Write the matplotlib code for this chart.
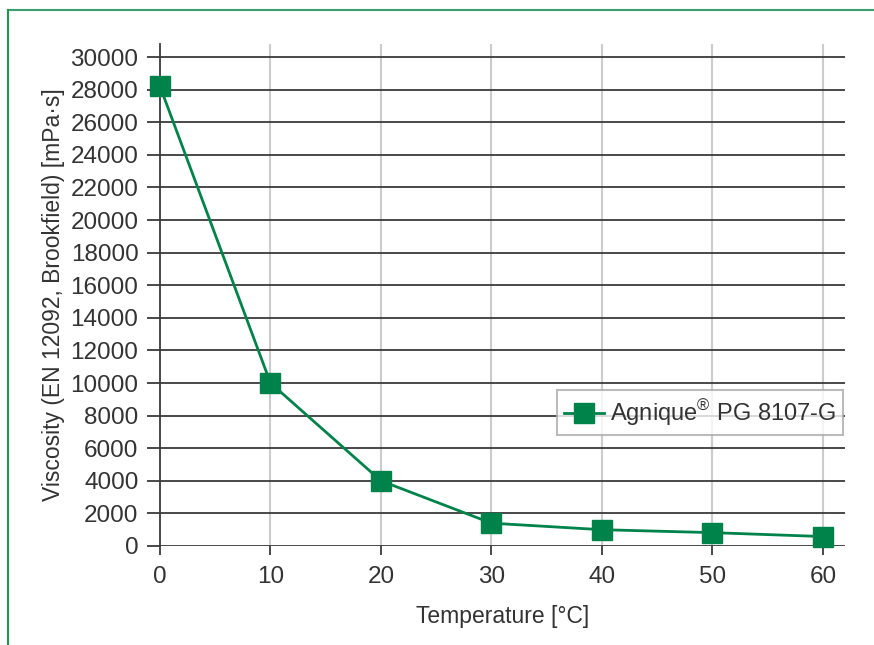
import matplotlib.pyplot as plt
from matplotlib.lines import Line2D

plt.rcParams['font.family'] = ['Liberation Sans', 'DejaVu Sans']
plt.rcParams['mathtext.fontset'] = 'custom'
plt.rcParams['mathtext.rm'] = 'Liberation Sans'

temperature = [0, 10, 20, 30, 40, 50, 60]
viscosity = [28200, 10000, 4000, 1400, 1000, 820, 580]
series_name = 'Agnique$^{\\mathrm{®}}$ PG 8107-G'
yticks = list(range(0, 30001, 2000))
xticks = [0, 10, 20, 30, 40, 50, 60]

green = '#00834a'
txt = '#333333'

fig = plt.figure(figsize=(8.74, 6.45), dpi=100)
# green frame around the chart (top and left edges)
fig.add_artist(Line2D([8 / 874, 1], [1 - 10 / 645, 1 - 10 / 645], color='#3a9e6e', lw=1.5))
fig.add_artist(Line2D([8 / 874, 8 / 874], [0, 1 - 10 / 645], color='#1a9a4a', lw=1.5))

ax = fig.add_axes([160 / 874, 99 / 645, 685 / 874, 502 / 645])
ax.set_xlim(0, 62)
ax.set_ylim(0, 30800)

for y in yticks:
    ax.axhline(y, color='#3a3a3a', lw=1.3, zorder=1)
for x in xticks[1:]:
    ax.axvline(x, color='#cccccc', lw=1.5, zorder=0)

ax.plot(temperature, viscosity, color=green, lw=2, marker='s', ms=14,
        label=series_name, zorder=3, clip_on=False)

for s in ['top', 'right', 'bottom']:
    ax.spines[s].set_visible(False)
ax.spines['left'].set_color('#3a3a3a')
ax.spines['left'].set_linewidth(1.3)

ax.set_xticks(xticks)
ax.set_yticks(yticks)
ax.tick_params(axis='y', length=9.5, width=1.3, color='#3a3a3a', pad=6,
               labelsize=17.5, labelcolor=txt)
ax.tick_params(axis='x', length=6.5, width=1.3, color='#3a3a3a', pad=8,
               labelsize=17.5, labelcolor=txt)

ax.set_xlabel('Temperature [°C]', fontsize=16.5, color=txt, labelpad=12)
ax.set_ylabel('Viscosity (EN 12092, Brookfield) [mPa·s]', fontsize=16.5, color=txt,
              labelpad=4)

leg = ax.legend(loc='upper left', bbox_to_anchor=((557 - 160) / 685, (255 - 99) / 502),
                fontsize=17, frameon=True, fancybox=False, handlelength=1.7,
                borderpad=0.3, handletextpad=0.25, borderaxespad=0)
leg.get_frame().set_edgecolor('#aaaaaa')
leg.get_frame().set_linewidth(1.5)
for t in leg.get_texts():
    t.set_color(txt)

fig.savefig('out.png', dpi=100)
